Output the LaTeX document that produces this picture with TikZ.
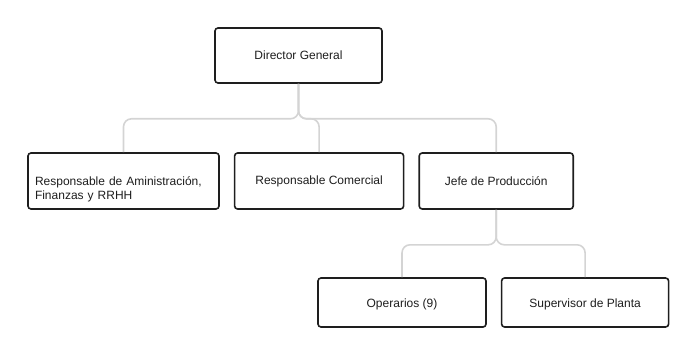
\documentclass[tikz,border=0pt]{standalone}
\usepackage{fontspec}
\setmainfont{Liberation Sans}
\usepackage{xcolor}
\usetikzlibrary{positioning}
\definecolor{ink}{HTML}{1E1E1E}
\definecolor{wire}{HTML}{D4D4D4}

\begin{document}
\begin{tikzpicture}[
  x=1pt,y=-1pt,
  node distance=14pt,
  every node/.style={font=\fontsize{12}{15}\selectfont,text=ink},
  box/.style={rounded corners=3pt,draw=ink,line width=1.6pt,fill=white,minimum height=56pt,inner sep=7pt,align=center},
  leaf/.style={box,minimum height=49pt},
  link/.style={draw=wire,line width=1.6pt,rounded corners=8pt}
]
\useasboundingbox (0,0) rectangle (695,355);
\node[box,minimum width=167pt,minimum height=55pt] (director) at (298.5,55.5) {Director General};
\node[box,minimum width=191pt,text width=177pt,align=left,font=\fontsize{12}{13.5}\selectfont] (admin) at (123.5,181) {\rule{0pt}{25pt}Responsable de Aministración,\\Finanzas y RRHH};
\node[box,minimum width=169pt,right=of admin] (comercial) {Responsable Comercial};
\node[box,minimum width=154pt,right=of comercial] (jefe) {Jefe de Producción};
\node[leaf,minimum width=168pt] (operarios) at (402,302.5) {\rule{0pt}{12pt}Operarios (9)};
\node[leaf,minimum width=167pt,right=of operarios] (supervisor) {\rule{0pt}{12pt}Supervisor de Planta};
% lineas
\draw[link] (director.south) -- ++(0,35) -| (admin.north);
\draw[link] (director.south) -- ++(0,35) -| (comercial.north);
\draw[link] (director.south) -- ++(0,35) -| (jefe.north);
\draw[link] (jefe.south) -- ++(0,35) -| (operarios.north);
\draw[link] (jefe.south) -- ++(0,35) -| (supervisor.north);
\end{tikzpicture}
\end{document}
